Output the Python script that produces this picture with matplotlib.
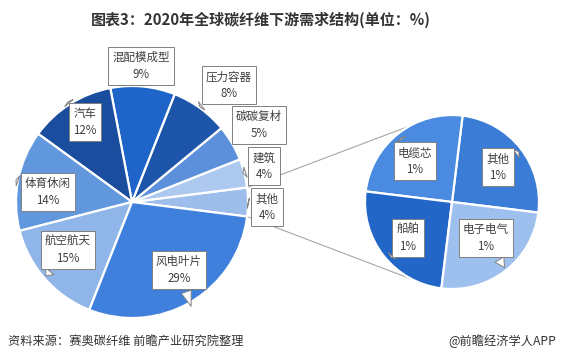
import numpy as np
import matplotlib.pyplot as plt

plt.rcParams['font.family'] = ['Noto Sans CJK SC', 'DejaVu Sans']

# main pie, counter-clockwise starting from the combined "其他" slice
main_labels = ["其他", "建筑", "碳碳复材", "压力容器", "混配模成型", "汽车", "体育休闲", "航空航天", "风电叶片"]
main_values = [4, 4, 5, 8, 9, 12, 14, 15, 29]
main_colors = ["#9dbdeb", "#adc9f0", "#5c90db", "#1d55ab", "#1f64c8", "#1b4d9e", "#6197dc", "#90b5e8", "#3f80dc"]

# secondary pie (breakdown of "其他")
sub_labels = ["其他", "电缆芯", "船舶", "电子电气"]
sub_values = [1, 1, 1, 1]
sub_colors = ["#3a7cd6", "#4a8ae0", "#2266c8", "#9ec0ee"]

W, H = 561, 362
fig = plt.figure(figsize=(W / 100, H / 100), dpi=100)
ax = fig.add_axes([0, 0, 1, 1])

def Y(y):
    return H - y

c1, r1 = (132, Y(202)), 116
c2, r2 = (452, Y(202)), 87

start = -360 * main_values[0] / sum(main_values) / 2
w1, _ = ax.pie(main_values, colors=main_colors, startangle=start, counterclock=True,
               center=c1, radius=r1, frame=True,
               wedgeprops=dict(edgecolor='white', linewidth=1.6))
w2, _ = ax.pie(sub_values, colors=sub_colors, startangle=-7, counterclock=True,
               center=c2, radius=r2, frame=True,
               wedgeprops=dict(edgecolor='white', linewidth=1.6))
ax.set_xlim(0, W)
ax.set_ylim(0, H)
ax.set_aspect('equal')
ax.axis('off')

# connector lines between the pies
t_hi, t_lo = np.radians(w1[0].theta2), np.radians(w1[0].theta1)
a_hi, a_lo = np.radians(119), np.radians(-117)
for t, a in [(t_hi, a_hi), (t_lo, a_lo)]:
    ax.plot([c1[0] + r1 * np.cos(t), c2[0] + r2 * np.cos(a)],
            [c1[1] + r1 * np.sin(t), c2[1] + r2 * np.sin(a)],
            color='#a6a6a6', lw=0.8, zorder=0)

# callout label positions (box centre, pointer tip) in image pixels
main_pos = {
    "其他": ((267, 207), (248, 203)),
    "建筑": ((264, 166), (243, 173)),
    "碳碳复材": ((259, 125), (232, 140)),
    "压力容器": ((229, 85), (200, 107)),
    "混配模成型": ((141, 66), None),
    "汽车": ((85, 122), (68, 102)),
    "体育休闲": ((48, 192), (16, 180)),
    "航空航天": ((68, 250), (44, 278)),
    "风电叶片": ((179, 270), (192, 309)),
}
sub_pos = {
    "电缆芯": ((415, 161), (399, 136)),
    "其他": ((498, 167), (521, 150)),
    "船舶": ((408, 238), (391, 257)),
    "电子电气": ((486, 238), (506, 270)),
}

box = dict(boxstyle='square,pad=0.35', fc='white', ec='#808080', lw=0.7)

def callout(text, pos, tip):
    kw = {}
    if tip is not None:
        kw['arrowprops'] = dict(arrowstyle='wedge,tail_width=0.9,shrink_factor=0.5',
                                fc='white', ec='#808080', lw=0.7)
        xy = (tip[0], Y(tip[1]))
    else:
        xy = (pos[0], Y(pos[1]))
    ax.annotate(text, xy=xy, xytext=(pos[0], Y(pos[1])), ha='center', va='center',
                fontsize=8.3, color='#404040', linespacing=1.35, bbox=box, zorder=5, **kw)

for lab, val in zip(main_labels, main_values):
    p, t = main_pos[lab]
    callout(f"{lab}\n{val}%", p, t)
for lab, val in zip(sub_labels, sub_values):
    p, t = sub_pos[lab]
    callout(f"{lab}\n{val}%", p, t)

ax.text(261, Y(20), "图表3：2020年全球碳纤维下游需求结构(单位：%)", ha='center', va='center',
        fontsize=10.8, fontweight='bold', color='#333333')
ax.text(8, Y(341), "资料来源：赛奥碳纤维 前瞻产业研究院整理", ha='left', va='center',
        fontsize=8.8, color='#333333')
ax.text(556, Y(341), "@前瞻经济学人APP", ha='right', va='center',
        fontsize=8.8, color='#333333')

fig.savefig('out.png', dpi=100)
